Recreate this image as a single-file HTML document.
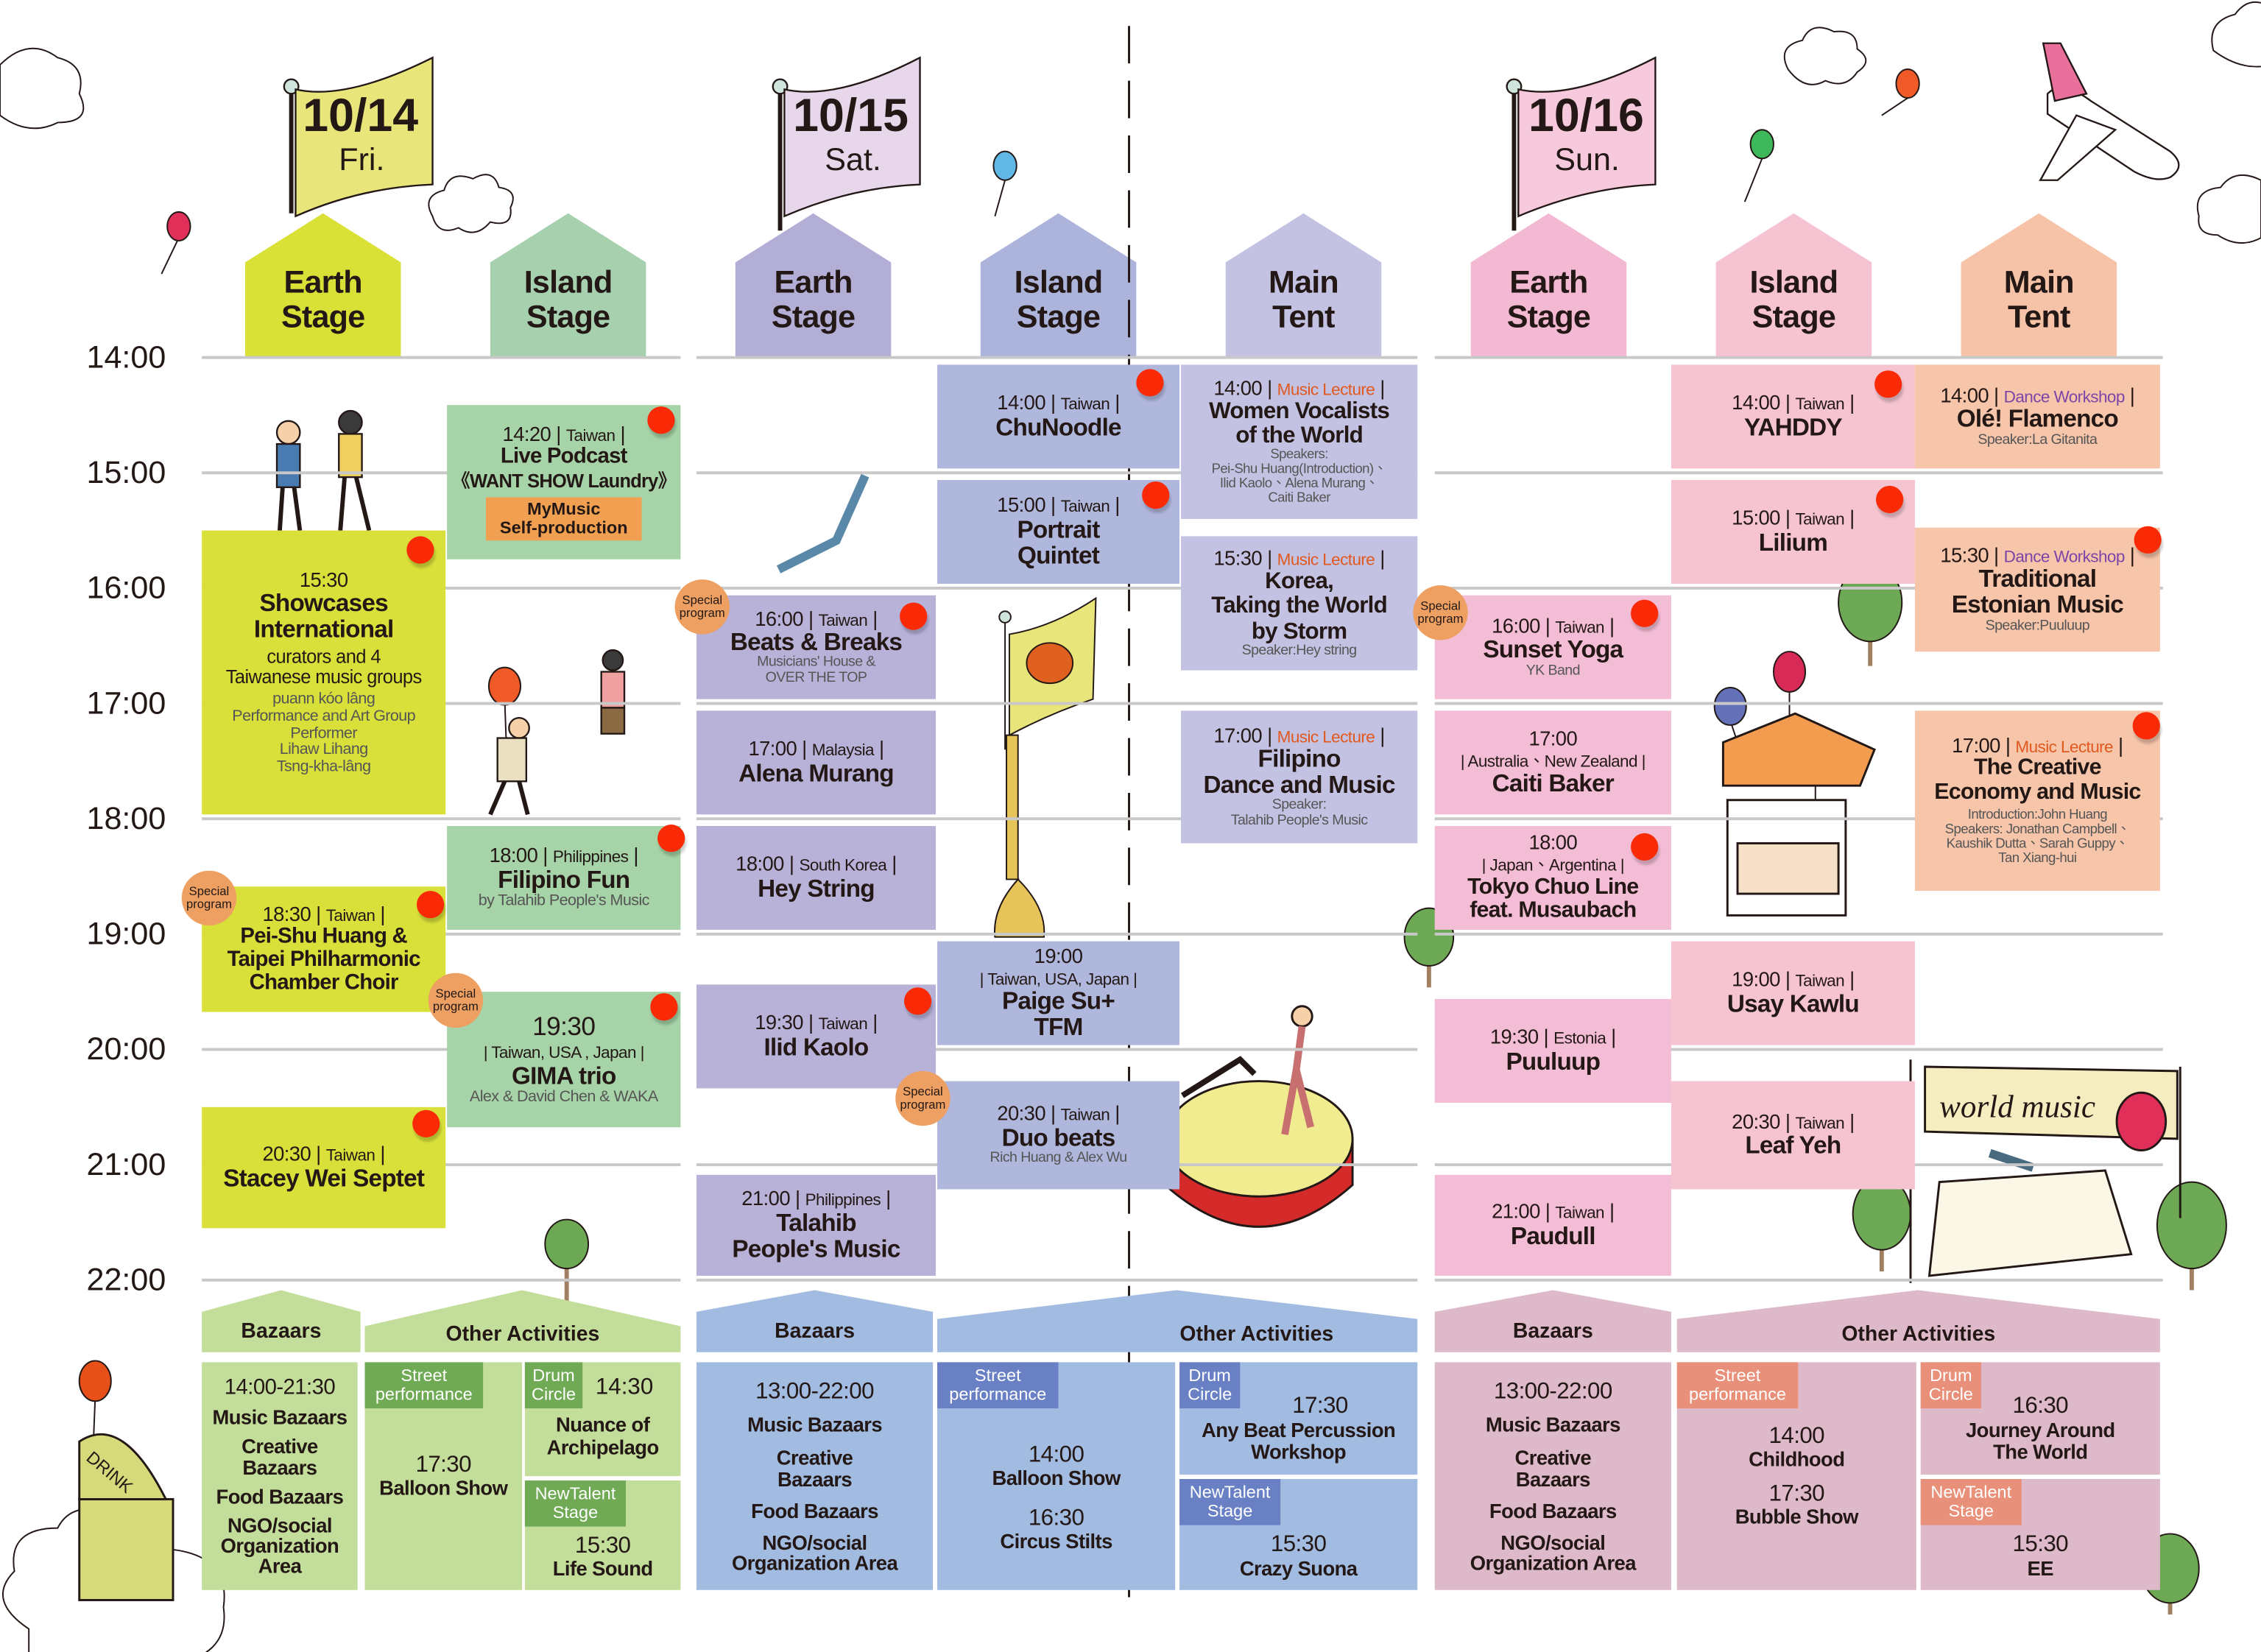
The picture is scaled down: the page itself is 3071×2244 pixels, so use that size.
<!DOCTYPE html>
<html><head><meta charset="utf-8">
<style>
html,body{margin:0;padding:0;background:#fff;}
body{width:3071px;height:2244px;overflow:hidden;position:relative;}
#w{position:absolute;left:0;top:0;width:1568px;height:1146px;transform:scale(1.9585,1.9581);transform-origin:0 0;font-family:"Liberation Sans","Noto Sans CJK TC",sans-serif;color:#231815;}
.a{position:absolute;}
.c{position:absolute;display:flex;flex-direction:column;justify-content:center;align-items:center;text-align:center;line-height:1.08;box-sizing:border-box;}
.t{font-size:14px;letter-spacing:-0.3px;white-space:nowrap;}
.t i{font-style:normal;font-size:11.5px;}
.n{font-weight:bold;font-size:17px;line-height:1.07;letter-spacing:-0.4px;white-space:nowrap;}
.s{font-size:10px;color:#555;line-height:1.05;letter-spacing:-0.3px;white-space:nowrap;}
.o{color:#e0591e;} .p{color:#7b45a8;}
.hl{position:absolute;height:2px;background:#c8c8c8;}
.tm{position:absolute;left:60px;font-size:22px;}
.dot{position:absolute;width:19px;height:19px;border-radius:50%;background:#fa2a06;box-shadow:1px 3px 2px rgba(0,0,0,.2);}
.sp{position:absolute;width:38px;height:38px;border-radius:50%;background:#eda062;font-size:8.5px;display:flex;align-items:center;justify-content:center;text-align:center;line-height:1.1;}
.tag{position:absolute;color:#fff;font-size:12px;line-height:1.05;text-align:center;display:flex;align-items:center;justify-content:center;}
.bt{font-weight:bold;font-size:14px;letter-spacing:-0.3px;}
.bh{position:absolute;font-weight:bold;font-size:14.5px;text-align:center;}
</style></head><body><div id="w">

<svg class="a" style="left:0;top:0" width="1568" height="1146">
<g>
<polygon points="170,182 224,148 278,182 278,248 170,248" fill="#d9e036"/>
<polygon points="340,182 394,148 448,182 448,248 340,248" fill="#a6d0ae"/>
<polygon points="510,182 564,148 618,182 618,248 510,248" fill="#b3aed6"/>
<polygon points="680,182 734,148 788,182 788,248 680,248" fill="#adb4dc"/>
<polygon points="850,182 904,148 958,182 958,248 850,248" fill="#c4c2e3"/>
<polygon points="1020,182 1074,148 1128,182 1128,248 1020,248" fill="#f3b9d3"/>
<polygon points="1190,182 1244,148 1298,182 1298,248 1190,248" fill="#f5c3d1"/>
<polygon points="1360,182 1414,148 1468,182 1468,248 1360,248" fill="#f7c3a8"/>
</g>
<g stroke="#231815" stroke-width="1.2">
<line x1="202" y1="60" x2="202" y2="148" stroke-width="3"/>
<circle cx="202" cy="60" r="5" fill="#cfe4dc"/>
<path d="M205,62 Q240,70 300,40 L300,128 Q250,130 205,150 Z" fill="#e8e67a"/>
<line x1="541" y1="60" x2="541" y2="160" stroke-width="3"/>
<circle cx="541" cy="60" r="5" fill="#cfe4dc"/>
<path d="M544,62 Q580,70 638,40 L638,128 Q590,130 544,150 Z" fill="#e8d6ea"/>
<line x1="1050" y1="60" x2="1050" y2="160" stroke-width="3"/>
<circle cx="1050" cy="60" r="5" fill="#cfe4dc"/>
<path d="M1053,62 Q1090,70 1148,40 L1148,128 Q1100,130 1053,150 Z" fill="#f6c9dc"/>
</g>
<g fill="#fff" stroke="#231815" stroke-width="1">
<path d="M300,150 q-8,-14 8,-18 q4,-14 20,-8 q14,-8 18,6 q14,2 8,14 q2,14 -14,10 q-10,12 -22,4 q-14,6 -18,-8z"/>
<path d="M1535,35 q-5,-20 15,-25 q10,-14 25,-5 l0,40 q-20,5 -40,-10z"/>
<path d="M1240,48 q-8,-16 10,-20 q6,-14 22,-6 q16,-2 16,12 q12,8 0,16 q-8,12 -22,6 q-14,8 -26,-8z"/>
<path d="M0,45 q20,-20 40,-5 q20,5 15,25 q10,20 -15,20 q-20,10 -40,-5z"/>
<path d="M1525,150 q-5,-18 15,-20 q10,-14 28,-5 l0,40 q-15,8 -30,-2 q-15,0 -13,-13z"/>
<path d="M20,1130 q-30,-20 -10,-40 q-5,-30 30,-30 q10,-20 40,-10 q35,-10 40,25 q40,5 35,40 q5,35 -40,40 l-95,0z"/>
</g>
<g stroke="#231815" stroke-width="1">
<line x1="124" y1="165" x2="112" y2="190"/><ellipse cx="124" cy="157" rx="8" ry="10" fill="#e0305a"/>
<line x1="697" y1="125" x2="690" y2="150"/><ellipse cx="697" cy="115" rx="8" ry="10" fill="#5fb8e6"/>
<line x1="1222" y1="110" x2="1210" y2="140"/><ellipse cx="1222" cy="100" rx="8" ry="10" fill="#3fb85c"/>
<line x1="1323" y1="68" x2="1305" y2="80"/><ellipse cx="1323" cy="58" rx="8" ry="10" fill="#f05a28"/>
<line x1="66" y1="970" x2="64" y2="1020"/><ellipse cx="66" cy="958" rx="11" ry="14" fill="#e8501a"/>
<line x1="350" y1="485" x2="352" y2="540"/><ellipse cx="350" cy="476" rx="11" ry="13" fill="#f05a28"/>
<line x1="1241" y1="478" x2="1241" y2="530"/><ellipse cx="1241" cy="466" rx="11" ry="14" fill="#d82a56"/>
<line x1="1200" y1="500" x2="1210" y2="530"/><ellipse cx="1200" cy="490" rx="11" ry="13" fill="#6470b8"/>
<line x1="1259" y1="540" x2="1259" y2="560"/><ellipse cx="1259" cy="530" rx="11" ry="12" fill="#5fb8e6"/>
</g>
<g stroke="#231815" stroke-width="1.2" fill="#fff">
<path d="M1420,65 q10,-10 30,5 l55,35 q12,10 0,18 q-10,4 -25,-4 l-60,-40z"/>
<path d="M1440,80 l-25,45 l12,0 l40,-35z"/>
<path d="M1425,70 l-8,-40 l12,0 l18,35z" fill="#e8709a"/>
</g>
<!-- figures (simplified) -->
<g stroke="#231815" stroke-width="1.2">
<circle cx="200" cy="300" r="8" fill="#f5d0a8"/><rect x="192" y="308" width="16" height="30" fill="#4a7bb0"/><line x1="196" y1="338" x2="194" y2="368" stroke-width="3"/><line x1="204" y1="338" x2="208" y2="368" stroke-width="3"/>
<circle cx="243" cy="293" r="8" fill="#3a3a3a"/><rect x="235" y="301" width="16" height="30" fill="#f0d060"/><line x1="239" y1="331" x2="236" y2="368" stroke-width="3"/><line x1="247" y1="331" x2="256" y2="368" stroke-width="3"/>
<circle cx="425" cy="458" r="7" fill="#3a3a3a"/><rect x="417" y="466" width="16" height="25" fill="#f0a0a0"/><rect x="417" y="491" width="16" height="18" fill="#8a6a40"/>
<circle cx="360" cy="505" r="7" fill="#f5d0a8"/><rect x="345" y="512" width="20" height="30" fill="#e8e0c0"/><line x1="350" y1="542" x2="340" y2="565" stroke-width="3"/><line x1="360" y1="542" x2="366" y2="565" stroke-width="3"/>
<path d="M600,330 l-20,45 l-40,20" fill="none" stroke="#5a88a8" stroke-width="6"/>
<path d="M1380,800 l30,10 M1420,830 l30,-10" stroke-width="6" stroke="#4a6a80"/>
</g>
<g stroke="#231815" stroke-width="1">
<line x1="393" y1="870" x2="393" y2="905" stroke="#a08060" stroke-width="3"/><ellipse cx="393" cy="863" rx="15" ry="17" fill="#6da855"/>
<line x1="991" y1="660" x2="991" y2="685" stroke="#a08060" stroke-width="3"/><ellipse cx="991" cy="650" rx="17" ry="20" fill="#6da855"/>
<line x1="1297" y1="430" x2="1297" y2="462" stroke="#a08060" stroke-width="3"/><ellipse cx="1297" cy="418" rx="22" ry="27" fill="#6da855"/>
<line x1="1305" y1="850" x2="1305" y2="882" stroke="#a08060" stroke-width="3"/><ellipse cx="1305" cy="842" rx="20" ry="25" fill="#6da855"/>
<line x1="1520" y1="855" x2="1520" y2="895" stroke="#a08060" stroke-width="3"/><ellipse cx="1520" cy="850" rx="24" ry="30" fill="#6da855"/>
<line x1="1505" y1="1090" x2="1505" y2="1120" stroke="#a08060" stroke-width="3"/><ellipse cx="1505" cy="1088" rx="20" ry="24" fill="#6da855"/>
</g>
<g stroke="#231815" stroke-width="1.5">
<path d="M808,790 L808,822 Q873,880 938,822 L938,790 Z" fill="#d42a2a"/>
<ellipse cx="873" cy="790" rx="65" ry="40" fill="#f1ec90"/>
<circle cx="903" cy="705" r="7" fill="#f5d0a8"/>
<path d="M903,712 l-4,30 l-8,45 M899,742 l10,40" fill="none" stroke="#c87070" stroke-width="5"/>
<path d="M820,760 l40,-25 l10,10" fill="none" stroke-width="4"/>
</g>
<g stroke="#231815" stroke-width="1" fill="#e6c45a">
<line x1="697" y1="430" x2="697" y2="520" fill="none"/>
<circle cx="697" cy="428" r="4" fill="#cfe4dc"/>
<path d="M700,440 q30,-5 60,-25 l-2,70 q-30,10 -58,25z" fill="#e8e67a"/>
<ellipse cx="728" cy="460" rx="16" ry="14" fill="#e06020"/>
<path d="M698,510 l8,0 l0,100 q20,20 18,40 l-34,0 q-2,-20 16,-40 l-8,0z"/>
</g>
<g stroke="#231815" stroke-width="1.5">
<line x1="1325" y1="735" x2="1325" y2="890"/><line x1="1512" y1="740" x2="1512" y2="845"/>
<path d="M1335,740 L1510,743 L1510,790 L1335,785Z" fill="#f5edc0"/>
<ellipse cx="1485" cy="778" rx="17" ry="20" fill="#e0305a"/>
<path d="M1345,820 L1460,812 L1478,870 L1338,885Z" fill="#fbf7e6"/>
<path d="M1195,515 l50,-20 l55,25 l-10,25 l-95,0z" fill="#f39c50"/>
<rect x="1198" y="555" width="82" height="80" fill="#fff"/>
<rect x="1205" y="585" width="70" height="35" fill="#f7e0c8"/>
<rect x="55" y="1040" width="65" height="70" fill="#d7da7a"/>
<path d="M55,1000 q30,-20 60,40 l-60,0z" fill="#d7da7a"/>
</g>
<text x="1345" y="775" font-family="Liberation Serif" font-style="italic" font-size="22" fill="#231815">world music</text>
<text x="60" y="1020" font-family="Liberation Sans" font-size="12" fill="#231815" transform="rotate(40 70 1015)">DRINK</text>
<line x1="783" y1="18" x2="783" y2="1112" stroke="#231815" stroke-width="1.5" stroke-dasharray="26,12"/>
<polygon points="140,910 195,895 250,910 250,938 140,938" fill="#c3dd9b"/>
<polygon points="253,920 362,895 472,920 472,938 253,938" fill="#c3dd9b"/>
<polygon points="483,910 565,895 647,910 647,938 483,938" fill="#a2bbe1"/>
<polygon points="650,915 816,895 983,915 983,938 650,938" fill="#a2bbe1"/>
<polygon points="995,910 1077,895 1159,910 1159,938 995,938" fill="#ddb9ca"/>
<polygon points="1163,915 1330,895 1498,915 1498,938 1163,938" fill="#ddb9ca"/>
</svg>

<div class="a" style="left:210px;top:62px;font-size:32px;font-weight:bold;">10/14</div>
<div class="a" style="left:235px;top:98px;font-size:22px;">Fri.</div>
<div class="a" style="left:550px;top:62px;font-size:32px;font-weight:bold;">10/15</div>
<div class="a" style="left:572px;top:98px;font-size:22px;">Sat.</div>
<div class="a" style="left:1060px;top:62px;font-size:32px;font-weight:bold;">10/16</div>
<div class="a" style="left:1078px;top:98px;font-size:22px;">Sun.</div>

<div class="c n" style="left:170px;top:178px;width:108px;height:60px;font-size:22px;">Earth<br>Stage</div>
<div class="c n" style="left:340px;top:178px;width:108px;height:60px;font-size:22px;">Island<br>Stage</div>
<div class="c n" style="left:510px;top:178px;width:108px;height:60px;font-size:22px;">Earth<br>Stage</div>
<div class="c n" style="left:680px;top:178px;width:108px;height:60px;font-size:22px;">Island<br>Stage</div>
<div class="c n" style="left:850px;top:178px;width:108px;height:60px;font-size:22px;">Main<br>Tent</div>
<div class="c n" style="left:1020px;top:178px;width:108px;height:60px;font-size:22px;">Earth<br>Stage</div>
<div class="c n" style="left:1190px;top:178px;width:108px;height:60px;font-size:22px;">Island<br>Stage</div>
<div class="c n" style="left:1360px;top:178px;width:108px;height:60px;font-size:22px;">Main<br>Tent</div>

<div class="hl" style="left:140px;width:332px;top:247px"></div><div class="hl" style="left:483px;width:500px;top:247px"></div><div class="hl" style="left:995px;width:505px;top:247px"></div>
<div class="hl" style="left:140px;width:332px;top:327px"></div><div class="hl" style="left:483px;width:500px;top:327px"></div><div class="hl" style="left:995px;width:505px;top:327px"></div>
<div class="hl" style="left:140px;width:332px;top:407px"></div><div class="hl" style="left:483px;width:500px;top:407px"></div><div class="hl" style="left:995px;width:505px;top:407px"></div>
<div class="hl" style="left:140px;width:332px;top:487px"></div><div class="hl" style="left:483px;width:500px;top:487px"></div><div class="hl" style="left:995px;width:505px;top:487px"></div>
<div class="hl" style="left:140px;width:332px;top:567px"></div><div class="hl" style="left:483px;width:500px;top:567px"></div><div class="hl" style="left:995px;width:505px;top:567px"></div>
<div class="hl" style="left:140px;width:332px;top:647px"></div><div class="hl" style="left:483px;width:500px;top:647px"></div><div class="hl" style="left:995px;width:505px;top:647px"></div>
<div class="hl" style="left:140px;width:332px;top:727px"></div><div class="hl" style="left:483px;width:500px;top:727px"></div><div class="hl" style="left:995px;width:505px;top:727px"></div>
<div class="hl" style="left:140px;width:332px;top:807px"></div><div class="hl" style="left:483px;width:500px;top:807px"></div><div class="hl" style="left:995px;width:505px;top:807px"></div>
<div class="hl" style="left:140px;width:332px;top:887px"></div><div class="hl" style="left:483px;width:500px;top:887px"></div><div class="hl" style="left:995px;width:505px;top:887px"></div>

<div class="tm" style="top:235px">14:00</div><div class="tm" style="top:315px">15:00</div><div class="tm" style="top:395px">16:00</div><div class="tm" style="top:475px">17:00</div><div class="tm" style="top:555px">18:00</div><div class="tm" style="top:635px">19:00</div><div class="tm" style="top:715px">20:00</div><div class="tm" style="top:795px">21:00</div><div class="tm" style="top:875px">22:00</div>

<div class="c" style="left:140px;top:368px;width:169px;height:197px;background:#d9e03a;">
<div class="t">15:30</div><div class="n">Showcases<br>International</div><div style="font-size:13px;margin-top:3px;letter-spacing:-0.3px">curators and 4<br>Taiwanese music groups</div><div class="s" style="font-size:11px;margin-top:3px">puann kóo lâng<br>Performance and Art Group<br>Performer<br>Lihaw Lihang<br>Tsng-kha-lâng</div></div>
<div class="c" style="left:140px;top:615px;width:169px;height:87px;background:#d9e03a;"><div class="t">18:30 | <i>Taiwan</i> |</div><div class="n" style="font-size:15px">Pei-Shu Huang &amp;<br>Taipei Philharmonic<br>Chamber Choir</div></div>
<div class="c" style="left:140px;top:768px;width:169px;height:84px;background:#d9e03a;"><div class="t">20:30 | <i>Taiwan</i> |</div><div class="n">Stacey Wei Septet</div></div>

<div class="c" style="left:310px;top:281px;width:162px;height:107px;background:#a6d3a8;"><div class="t">14:20 | <i>Taiwan</i> |</div><div class="n" style="font-size:15px">Live Podcast<br><span style="font-size:13px">《WANT SHOW Laundry》</span></div><div style="background:#f0a050;font-weight:bold;font-size:12px;padding:2px 4px;margin-top:3px;width:100px;line-height:1.1">MyMusic<br>Self-production</div></div>
<div class="c" style="left:310px;top:573px;width:162px;height:72px;background:#a6d3a8;"><div class="t">18:00 | <i>Philippines</i> |</div><div class="n">Filipino Fun</div><div class="s" style="font-size:11px">by Talahib People's Music</div></div>
<div class="c" style="left:310px;top:688px;width:162px;height:94px;background:#a6d3a8;"><div class="t" style="font-size:18px">19:30</div><div class="t"><i>| Taiwan, USA , Japan |</i></div><div class="n">GIMA trio</div><div class="s" style="font-size:11px">Alex &amp; David Chen &amp; WAKA</div></div>

<div class="c" style="left:483px;top:413px;width:166px;height:72px;background:#b8b2d9;"><div class="t">16:00 | <i>Taiwan</i> |</div><div class="n">Beats &amp; Breaks</div><div class="s">Musicians' House &amp;<br>OVER THE TOP</div></div>
<div class="c" style="left:483px;top:493px;width:166px;height:72px;background:#b8b2d9;"><div class="t">17:00 | <i>Malaysia</i> |</div><div class="n">Alena Murang</div></div>
<div class="c" style="left:483px;top:573px;width:166px;height:72px;background:#b8b2d9;"><div class="t">18:00 | <i>South Korea</i> |</div><div class="n">Hey String</div></div>
<div class="c" style="left:483px;top:683px;width:166px;height:72px;background:#b8b2d9;"><div class="t">19:30 | <i>Taiwan</i> |</div><div class="n">Ilid Kaolo</div></div>
<div class="c" style="left:483px;top:815px;width:166px;height:70px;background:#b8b2d9;"><div class="t">21:00 | <i>Philippines</i> |</div><div class="n">Talahib<br>People's Music</div></div>

<div class="c" style="left:650px;top:253px;width:168px;height:72px;background:#b0b7dd;"><div class="t">14:00 | <i>Taiwan</i> |</div><div class="n">ChuNoodle</div></div>
<div class="c" style="left:650px;top:333px;width:168px;height:72px;background:#b0b7dd;"><div class="t">15:00 | <i>Taiwan</i> |</div><div class="n">Portrait<br>Quintet</div></div>
<div class="c" style="left:650px;top:653px;width:168px;height:72px;background:#b0b7dd;"><div class="t">19:00</div><div class="t"><i>| Taiwan, USA, Japan |</i></div><div class="n">Paige Su+<br>TFM</div></div>
<div class="c" style="left:650px;top:750px;width:168px;height:75px;background:#b0b7dd;"><div class="t">20:30 | <i>Taiwan</i> |</div><div class="n">Duo beats</div><div class="s">Rich Huang &amp; Alex Wu</div></div>

<div class="c" style="left:819px;top:253px;width:164px;height:107px;background:#c4c2e2;"><div class="t">14:00 | <i class="o">Music Lecture</i> |</div><div class="n" style="font-size:16px">Women Vocalists<br>of the World</div><div class="s" style="font-size:9.5px">Speakers:<br>Pei-Shu Huang(Introduction)、<br>Ilid Kaolo、Alena Murang、<br>Caiti Baker</div></div>
<div class="c" style="left:819px;top:372px;width:164px;height:93px;background:#c4c2e2;"><div class="t">15:30 | <i class="o">Music Lecture</i> |</div><div class="n" style="font-size:16px">Korea,<br>Taking the World<br>by Storm</div><div class="s">Speaker:Hey string</div></div>
<div class="c" style="left:819px;top:493px;width:164px;height:92px;background:#c4c2e2;"><div class="t">17:00 | <i class="o">Music Lecture</i> |</div><div class="n">Filipino<br>Dance and Music</div><div class="s">Speaker:<br>Talahib People's Music</div></div>

<div class="c" style="left:995px;top:413px;width:164px;height:72px;background:#f4bdd6;"><div class="t">16:00 | <i>Taiwan</i> |</div><div class="n">Sunset Yoga</div><div class="s">YK Band</div></div>
<div class="c" style="left:995px;top:493px;width:164px;height:72px;background:#f4bdd6;"><div class="t">17:00</div><div class="t"><i>| Australia、New Zealand |</i></div><div class="n">Caiti Baker</div></div>
<div class="c" style="left:995px;top:573px;width:164px;height:72px;background:#f4bdd6;"><div class="t">18:00</div><div class="t"><i>| Japan、Argentina |</i></div><div class="n" style="font-size:15.5px">Tokyo Chuo Line<br>feat. Musaubach</div></div>
<div class="c" style="left:995px;top:693px;width:164px;height:72px;background:#f4bdd6;"><div class="t">19:30 | <i>Estonia</i> |</div><div class="n">Puuluup</div></div>
<div class="c" style="left:995px;top:815px;width:164px;height:70px;background:#f4bdd6;"><div class="t">21:00 | <i>Taiwan</i> |</div><div class="n">Paudull</div></div>

<div class="c" style="left:1159px;top:253px;width:169px;height:72px;background:#f5c4d0;"><div class="t">14:00 | <i>Taiwan</i> |</div><div class="n">YAHDDY</div></div>
<div class="c" style="left:1159px;top:333px;width:169px;height:72px;background:#f5c4d0;"><div class="t">15:00 | <i>Taiwan</i> |</div><div class="n">Lilium</div></div>
<div class="c" style="left:1159px;top:653px;width:169px;height:72px;background:#f5c4d0;"><div class="t">19:00 | <i>Taiwan</i> |</div><div class="n">Usay Kawlu</div></div>
<div class="c" style="left:1159px;top:750px;width:169px;height:75px;background:#f5c4d0;"><div class="t">20:30 | <i>Taiwan</i> |</div><div class="n">Leaf Yeh</div></div>

<div class="c" style="left:1328px;top:253px;width:170px;height:72px;background:#f6c5aa;"><div class="t">14:00 | <i class="p">Dance Workshop</i> |</div><div class="n">Olé! Flamenco</div><div class="s">Speaker:La Gitanita</div></div>
<div class="c" style="left:1328px;top:366px;width:170px;height:86px;background:#f6c5aa;"><div class="t">15:30 | <i class="p">Dance Workshop</i> |</div><div class="n">Traditional<br>Estonian Music</div><div class="s">Speaker:Puuluup</div></div>
<div class="c" style="left:1328px;top:493px;width:170px;height:125px;background:#f6c5aa;"><div class="t">17:00 | <i class="o">Music Lecture</i> |</div><div class="n" style="font-size:15.5px">The Creative<br>Economy and Music</div><div class="s" style="margin-top:3px;font-size:9.5px">Introduction:John Huang<br>Speakers: Jonathan Campbell、<br>Kaushik Dutta、Sarah Guppy、<br>Tan Xiang-hui</div></div>

<div class="dot" style="left:282px;top:372px"></div><div class="dot" style="left:449px;top:282px"></div><div class="dot" style="left:289px;top:618px"></div><div class="dot" style="left:286px;top:770px"></div>
<div class="dot" style="left:456px;top:572px"></div><div class="dot" style="left:451px;top:689px"></div>
<div class="dot" style="left:624px;top:418px"></div><div class="dot" style="left:627px;top:685px"></div>
<div class="dot" style="left:788px;top:256px"></div><div class="dot" style="left:792px;top:334px"></div>
<div class="dot" style="left:1131px;top:416px"></div><div class="dot" style="left:1131px;top:578px"></div>
<div class="dot" style="left:1300px;top:257px"></div><div class="dot" style="left:1301px;top:337px"></div>
<div class="dot" style="left:1480px;top:365px"></div><div class="dot" style="left:1479px;top:494px"></div>

<div class="sp" style="left:468px;top:402px">Special<br>program</div>
<div class="sp" style="left:126px;top:604px">Special<br>program</div>
<div class="sp" style="left:297px;top:675px">Special<br>program</div>
<div class="sp" style="left:621px;top:743px">Special<br>program</div>
<div class="sp" style="left:980px;top:406px">Special<br>program</div>

<div class="bh" style="left:140px;top:916px;width:110px">Bazaars</div>
<div class="bh" style="left:253px;top:918px;width:219px">Other Activities</div>
<div class="bh" style="left:483px;top:916px;width:164px">Bazaars</div>
<div class="bh" style="left:650px;top:918px;width:443px">Other Activities</div>
<div class="bh" style="left:995px;top:916px;width:164px">Bazaars</div>
<div class="bh" style="left:1163px;top:918px;width:335px">Other Activities</div>

<div class="c bt" style="left:140px;top:945px;width:108px;height:158px;background:#c3dd9b;justify-content:space-around;padding:8px 0;"><div style="font-size:15px;font-weight:normal">14:00-21:30</div><div>Music Bazaars</div><div>Creative<br>Bazaars</div><div>Food Bazaars</div><div style="line-height:1">NGO/social<br>Organization<br>Area</div></div>
<div class="c bt" style="left:253px;top:945px;width:109px;height:158px;background:#c3dd9b;"><div style="font-size:16px;font-weight:normal">17:30</div><div>Balloon Show</div></div>
<div class="tag" style="left:253px;top:945px;width:82px;height:32px;background:#70aa55">Street<br>performance</div>
<div class="c bt" style="left:364px;top:945px;width:108px;height:79px;background:#c3dd9b;padding-top:24px"><div>Nuance of<br>Archipelago</div></div>
<div class="a" style="left:413px;top:954px;font-size:16px">14:30</div>
<div class="tag" style="left:364px;top:945px;width:40px;height:32px;background:#70aa55">Drum<br>Circle</div>
<div class="c bt" style="left:364px;top:1027px;width:108px;height:76px;background:#c3dd9b;padding-top:30px"><div style="font-size:16px;font-weight:normal">15:30</div><div>Life Sound</div></div>
<div class="tag" style="left:364px;top:1027px;width:70px;height:32px;background:#70aa55">NewTalent<br>Stage</div>

<div class="c bt" style="left:483px;top:945px;width:164px;height:158px;background:#a2bbe1;justify-content:space-around;padding:8px 0;"><div style="font-size:16px;font-weight:normal">13:00-22:00</div><div>Music Bazaars</div><div>Creative<br>Bazaars</div><div>Food Bazaars</div><div style="line-height:1">NGO/social<br>Organization Area</div></div>
<div class="c bt" style="left:650px;top:945px;width:165px;height:158px;background:#a2bbe1;justify-content:center;padding-top:30px"><div style="font-size:16px;font-weight:normal">14:00</div><div>Balloon Show</div><div style="font-size:16px;font-weight:normal;margin-top:12px">16:30</div><div>Circus Stilts</div></div>
<div class="tag" style="left:650px;top:945px;width:84px;height:32px;background:#6a80c4">Street<br>performance</div>
<div class="c bt" style="left:818px;top:945px;width:165px;height:78px;background:#a2bbe1;padding-top:14px"><div style="font-size:16px;font-weight:normal;margin-left:30px">17:30</div><div>Any Beat Percussion<br>Workshop</div></div>
<div class="tag" style="left:818px;top:945px;width:42px;height:32px;background:#6a80c4">Drum<br>Circle</div>
<div class="c bt" style="left:818px;top:1026px;width:165px;height:77px;background:#a2bbe1;padding-top:30px"><div style="font-size:16px;font-weight:normal">15:30</div><div>Crazy Suona</div></div>
<div class="tag" style="left:818px;top:1026px;width:70px;height:32px;background:#6a80c4">NewTalent<br>Stage</div>

<div class="c bt" style="left:995px;top:945px;width:164px;height:158px;background:#ddb9ca;justify-content:space-around;padding:8px 0;"><div style="font-size:16px;font-weight:normal">13:00-22:00</div><div>Music Bazaars</div><div>Creative<br>Bazaars</div><div>Food Bazaars</div><div style="line-height:1">NGO/social<br>Organization Area</div></div>
<div class="c bt" style="left:1163px;top:945px;width:166px;height:158px;background:#ddb9ca;"><div style="font-size:16px;font-weight:normal">14:00</div><div>Childhood</div><div style="font-size:16px;font-weight:normal;margin-top:8px">17:30</div><div>Bubble Show</div></div>
<div class="tag" style="left:1163px;top:945px;width:84px;height:32px;background:#e8907a">Street<br>performance</div>
<div class="c bt" style="left:1332px;top:945px;width:166px;height:78px;background:#ddb9ca;padding-top:14px"><div style="font-size:16px;font-weight:normal">16:30</div><div>Journey Around<br>The World</div></div>
<div class="tag" style="left:1332px;top:945px;width:42px;height:32px;background:#e8907a">Drum<br>Circle</div>
<div class="c bt" style="left:1332px;top:1026px;width:166px;height:77px;background:#ddb9ca;padding-top:30px"><div style="font-size:16px;font-weight:normal">15:30</div><div>EE</div></div>
<div class="tag" style="left:1332px;top:1026px;width:70px;height:32px;background:#e8907a">NewTalent<br>Stage</div>

</div></body></html>
